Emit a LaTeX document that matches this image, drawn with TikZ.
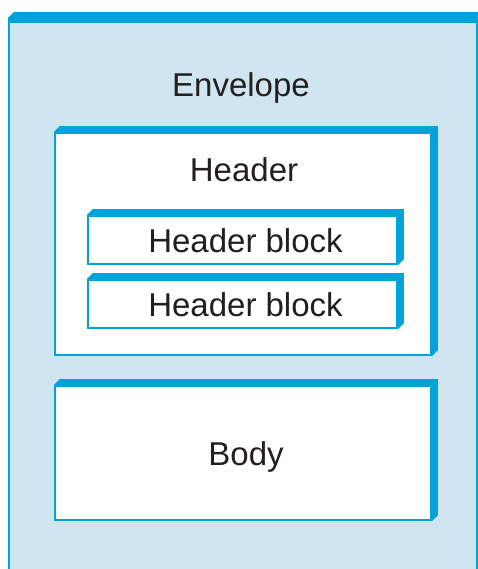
\documentclass[tikz,border=0pt]{standalone}
\usepackage{fontspec}
\setmainfont{Liberation Sans}
\usetikzlibrary{backgrounds}
\definecolor{soapblue}{HTML}{00A3D9}
\definecolor{envfill}{HTML}{CFE5F0}
\definecolor{inktext}{HTML}{231F20}
\tikzset{
  part/.style={inner sep=0pt, outer sep=0pt, text=inktext,
    font=\fontsize{33}{36}\selectfont, text height=30pt, text depth=0pt},
  caption/.style={anchor=base, inner sep=0pt, text=inktext, font=\fontsize{33}{36}\selectfont},
  outline/.style={draw=soapblue, line width=1.6pt, line join=miter},
}
\begin{document}
\begin{tikzpicture}[x=1pt,y=-1pt]
\useasboundingbox (0,0) rectangle (478,569);
\clip (0,0) rectangle (478,569);
\node[part, minimum width=468pt, minimum height=587pt] (env) at (243,306.5) {};
\node[part, minimum width=382pt, minimum height=228pt] (hdr) at (246,241) {};
\node[part, minimum width=315pt, minimum height=54pt] (blkA) at (245.5,237) {Header block};
\node[part, minimum width=315pt, minimum height=54pt] (blkB) at (245.5,301) {Header block};
\node[part, minimum width=382pt, minimum height=140pt] (body) at (246,450) {Body};
\node[caption] (envlbl) at (241,97) {Envelope};
\node[caption] (hdrlbl) at (244,182) {Header};
% boxes with thick top and right edges
\begin{scope}[on background layer]
\foreach \n/\f/\t/\r in {env/envfill/10/0,hdr/white/7/7,blkA/white/7/7,blkB/white/7/7,body/white/7/7}{
  \filldraw[outline, fill=\f] ([xshift=5pt]\n.north west) -- (\n.north east)
    -- ([yshift=5pt]\n.south east) -- ([xshift=-5pt]\n.south east)
    -- (\n.south west) -- ([yshift=-5pt]\n.north west) -- cycle;
  \fill[soapblue] ([yshift=-5pt]\n.north west) -- ([xshift=5pt]\n.north west)
    -- (\n.north east) -- ([yshift=-\t pt]\n.north east)
    -- ([yshift=-\t pt]\n.north west) -- cycle;
  \ifnum\r>0
  \fill[soapblue] ([xshift=-\r pt]\n.north east) -- (\n.north east)
    -- ([yshift=5pt]\n.south east) -- ([xshift=-5pt]\n.south east)
    -- ([xshift=-\r pt]\n.south east) -- cycle;
  \fi
}
\end{scope}
\end{tikzpicture}
\end{document}
